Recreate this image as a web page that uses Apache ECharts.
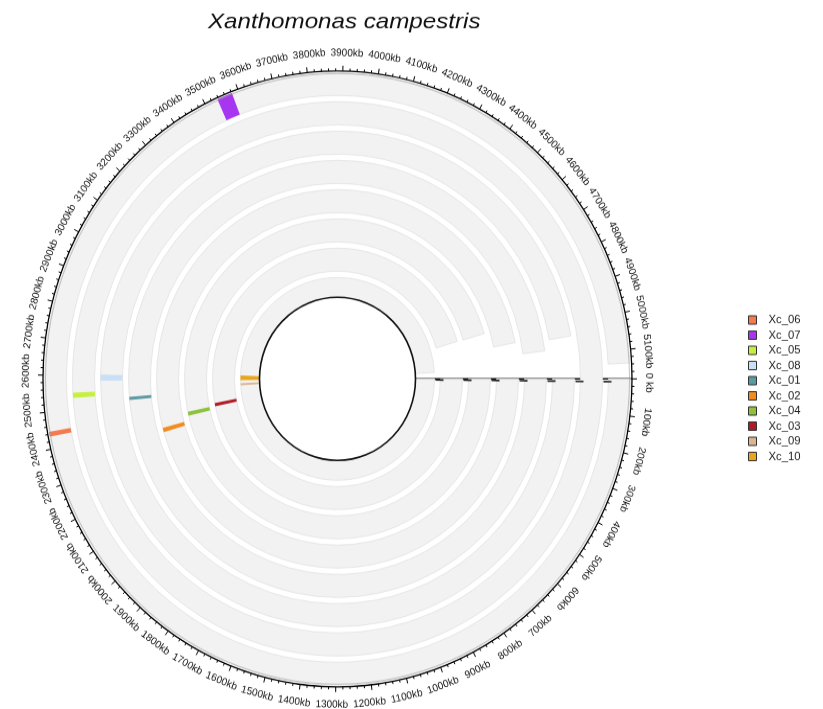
<!DOCTYPE html>
<html>
<head>
<meta charset="utf-8">
<script src="https://cdn.jsdelivr.net/npm/echarts@6/dist/echarts.min.js"></script>
<style>
  html, body { margin: 0; padding: 0; background: #ffffff; width: 823px; height: 709px; }
  #chart { width: 823px; height: 678px; transform-origin: 0 0; transform: scaleY(1.0457); }
</style>
</head>
<body>
<div id="chart"></div>
<script>
// ---- genome axis (kb) ----
const GENOME_MAX_KB = 5180;
const tickLabelKb = [0, 100, 200, 300, 400, 500, 600, 700, 800, 900, 1000, 1100, 1200, 1300,
  1400, 1500, 1600, 1700, 1800, 1900, 2000, 2100, 2200, 2300, 2400, 2500, 2600, 2700, 2800,
  2900, 3000, 3100, 3200, 3300, 3400, 3500, 3600, 3700, 3800, 3900, 4000, 4100, 4200, 4300,
  4400, 4500, 4600, 4700, 4800, 4900, 5000, 5100];

// ---- backbone rings, outermost first: length of each ring (kb) ----
const ringLengthKb = [5137, 5180, 5036, 5074, 5021, 4943, 4940, 5127];

// ---- located loci, one per strain ----
const strainNames = ['Xc_06', 'Xc_07', 'Xc_05', 'Xc_08', 'Xc_01', 'Xc_02', 'Xc_04', 'Xc_03', 'Xc_09', 'Xc_10'];
const strainRing = [0, 0, 1, 2, 3, 4, 5, 6, 7, 7];
const locusCenterKb = [2440, 3559, 2541, 2594, 2516, 2364, 2409, 2426, 2546, 2599];
const locusLengthKb = [13, 44, 16, 20, 12, 19, 20, 21, 18, 37];
const strainColors = ['#F47A50', '#A636F0', '#C6F040', '#C8DFF5', '#5A9AA0', '#F38C1E', '#8EC23E', '#B01A26', '#DDB592', '#E8A61C'];

// ---- layout (radius units = px before vertical scaling) ----
const AXIS_R = 294.5;
const INNER_R = 78;
const RING_OUTER = 293;
const RING_STEP = 28;
const RING_WIDTH = 22;
const LABEL_OFFSET = 17;
const LABEL_SHIFT_KB = 10;
const TAU = Math.PI * 2;
const FONT = 'Liberation Sans, Arial, Helvetica, sans-serif';

function geom(api) {
  const c = api.coord([0, 0]);
  const p = api.coord([100, 0]);
  const k = Math.hypot(p[0] - c[0], p[1] - c[1]) / 100;
  return { cx: c[0], cy: c[1], k: k };
}
// screen angle (radians, clockwise) of a genome position, unwrapped from the axis start
function angleOf(api, kb) {
  const c = api.coord([0, 0]);
  const p0 = api.coord([100, 0]);
  const p = api.coord([100, kb]);
  const a0 = Math.atan2(p0[1] - c[1], p0[0] - c[0]);
  let d = Math.atan2(p[1] - c[1], p[0] - c[0]) - a0;
  d = ((d % TAU) + TAU) % TAU;
  if (kb > GENOME_MAX_KB / 2 && d < Math.PI) d += TAU;
  return a0 + d;
}
function ringBand(i) {
  const outer = RING_OUTER - i * RING_STEP;
  return [Math.max(outer - RING_WIDTH, INNER_R), outer];
}
function radial(g, a, r0, r1) {
  return { x1: g.cx + r0 * g.k * Math.cos(a), y1: g.cy + r0 * g.k * Math.sin(a),
           x2: g.cx + r1 * g.k * Math.cos(a), y2: g.cy + r1 * g.k * Math.sin(a) };
}

const series = [];

// closing line at the end of the axis, under the rings
series.push({
  type: 'custom', name: 'closing', coordinateSystem: 'polar', silent: true, z: 1,
  data: [[0, GENOME_MAX_KB]],
  renderItem(params, api) {
    const g = geom(api);
    return { type: 'line', shape: radial(g, angleOf(api, GENOME_MAX_KB), INNER_R, AXIS_R),
      style: { stroke: '#111', lineWidth: 1.5 } };
  }
});

// backbone rings
series.push({
  type: 'custom', name: 'rings', coordinateSystem: 'polar', silent: true, z: 2,
  data: ringLengthKb.map((v, i) => [i, v]),
  renderItem(params, api) {
    const i = params.dataIndex;
    const g = geom(api);
    const b = ringBand(i);
    return {
      type: 'sector',
      shape: { cx: g.cx, cy: g.cy, r0: b[0] * g.k, r: b[1] * g.k,
        startAngle: angleOf(api, 0), endAngle: angleOf(api, ringLengthKb[i]), clockwise: true },
      style: { fill: '#f2f2f2', stroke: '#e2e2e2', lineWidth: 0.8 }
    };
  }
});

// loci, one series per strain so the legend lists them
strainNames.forEach((name, s) => {
  series.push({
    type: 'custom', name: name, coordinateSystem: 'polar', silent: true, z: 3,
    itemStyle: { color: strainColors[s] },
    data: [[strainRing[s], locusCenterKb[s]]],
    renderItem(params, api) {
      const g = geom(api);
      const b = ringBand(strainRing[s]);
      const half = locusLengthKb[s] / 2;
      return {
        type: 'sector',
        shape: { cx: g.cx, cy: g.cy, r0: b[0] * g.k, r: b[1] * g.k,
          startAngle: angleOf(api, locusCenterKb[s] - half), endAngle: angleOf(api, locusCenterKb[s] + half), clockwise: true },
        style: { fill: strainColors[s] }
      };
    }
  });
});

// inner circle, ring start marks, thin outer guide
series.push({
  type: 'custom', name: 'frame', coordinateSystem: 'polar', silent: true, z: 5,
  data: [[0, 0]],
  renderItem(params, api) {
    const g = geom(api);
    const aStart = angleOf(api, 8);
    const kids = [];
    kids.push({ type: 'circle', shape: { cx: g.cx, cy: g.cy, r: AXIS_R * g.k - 2.5 },
      style: { fill: null, stroke: '#9a9a9a', lineWidth: 0.6 } });
    kids.push({ type: 'circle', shape: { cx: g.cx, cy: g.cy, r: INNER_R * g.k },
      style: { fill: '#ffffff', stroke: '#111', lineWidth: 1.6 } });
    for (let i = 0; i < ringLengthKb.length - 1; i++) {
      const r = ringBand(i)[0] - 1;
      kids.push({ type: 'line', shape: radial(g, aStart, r - 4, r + 4),
        style: { stroke: '#222', lineWidth: 1.6 } });
    }
    return { type: 'group', children: kids };
  }
});

// ruler labels, tangential, readable at the bottom
series.push({
  type: 'custom', name: 'ruler', coordinateSystem: 'polar', silent: true, z: 6,
  data: tickLabelKb.map(v => [0, v]),
  renderItem(params, api) {
    const v = tickLabelKb[params.dataIndex];
    const g = geom(api);
    const a = angleOf(api, v + LABEL_SHIFT_KB);
    const R = (AXIS_R + LABEL_OFFSET) * g.k;
    let rot = -(a + Math.PI / 2);
    const an = ((a % TAU) + TAU) % TAU;
    if (an > Math.PI * 0.25 && an < Math.PI * 0.75) rot += Math.PI;
    return {
      type: 'text',
      x: g.cx + R * Math.cos(a), y: g.cy + R * Math.sin(a), rotation: rot,
      style: { text: v === 0 ? '0 kb' : v + 'kb', fontSize: 10, fontFamily: FONT,
        fill: '#111', align: 'center', verticalAlign: 'middle' }
    };
  }
});

const chart = echarts.init(document.getElementById('chart'));
chart.setOption({
  animation: false,
  backgroundColor: '#ffffff',
  color: strainColors,
  graphic: [{
    type: 'text', left: 208, top: 11, scaleX: 1.15,
    style: { text: 'Xanthomonas campestris', fontFamily: FONT, fontStyle: 'italic', fontSize: 21, fill: '#111' }
  }],
  legend: {
    data: strainNames,
    orient: 'vertical', left: 743, top: 295.5,
    itemWidth: 8, itemHeight: 8, itemGap: 3.5,
    icon: 'rect',
    itemStyle: { borderColor: '#333', borderWidth: 1 },
    textStyle: { fontFamily: FONT, fontSize: 11.3, color: '#222', lineHeight: 8, padding: [0, 0, 0, 7] },
    selectedMode: false
  },
  polar: { center: [337.5, 362.3], radius: AXIS_R },
  radiusAxis: { type: 'value', min: 0, max: AXIS_R, show: false },
  angleAxis: {
    type: 'value', min: 0, max: GENOME_MAX_KB, interval: 100,
    startAngle: 0, clockwise: true,
    axisLine: { show: true, lineStyle: { color: '#000', width: 1.3 } },
    axisTick: { show: true, inside: false, length: 5, lineStyle: { color: '#000', width: 1 } },
    minorTick: { show: true, splitNumber: 5, length: 2.5, lineStyle: { color: '#000', width: 1 } },
    axisLabel: { show: false },
    splitLine: { show: false }
  },
  series: series
});
</script>
</body>
</html>
